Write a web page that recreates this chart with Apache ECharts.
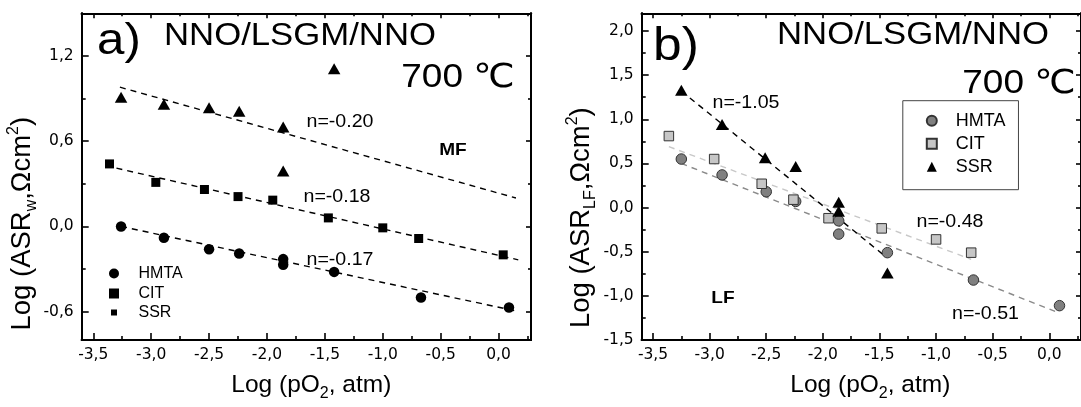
<!DOCTYPE html>
<html>
<head>
<meta charset="utf-8">
<script src="https://cdn.jsdelivr.net/npm/echarts@6/dist/echarts.min.js"></script>
<style>
  html, body { margin: 0; padding: 0; background: #fff; }
  #chart { width: 1081px; height: 407px; }
</style>
</head>
<body>
<div id="chart"></div>
<script>
// ---- tick positions ----
const xMajorTicks = [-3.5, -3, -2.5, -2, -1.5, -1, -0.5, 0];
const xMinorTicks = [-3.25, -2.75, -2.25, -1.75, -1.25, -0.75, -0.25, 0.25];
const yMajorTicksMF = [-0.6, 0, 0.6, 1.2];
const yMinorTicksMF = [-0.3, 0.3, 0.9];
const yMajorTicksLF = [-1.5, -1, -0.5, 0, 0.5, 1, 1.5, 2];
const yMinorTicksLF = [-1.25, -0.75, -0.25, 0.25, 0.75, 1.25, 1.75];

// ---- panel a: middle-frequency ASR, [log pO2, log ASR] ----
const hmtaMF = [[-3.26, 0.0], [-2.89, -0.08], [-2.5, -0.16], [-2.24, -0.19], [-1.86, -0.23],
                [-1.86, -0.27], [-1.42, -0.32], [-0.67, -0.5], [0.09, -0.57]];
const citMF = [[-3.36, 0.44], [-2.96, 0.31], [-2.54, 0.26], [-2.25, 0.21], [-1.95, 0.185],
               [-1.47, 0.06], [-1.0, -0.01], [-0.69, -0.085], [0.04, -0.2]];
const ssrMF = [[-3.26, 0.91], [-2.89, 0.86], [-2.5, 0.835], [-2.24, 0.81], [-1.86, 0.70],
               [-1.86, 0.39], [-1.42, 1.11]];
const fitHmtaMF = [[-3.26, 0.0], [0.15, -0.595]];
const fitCitMF = [[-3.3, 0.41], [0.17, -0.235]];
const fitSsrMF = [[-3.27, 0.98], [0.15, 0.2]];

// ---- panel b: low-frequency ASR ----
const hmtaLF = [[-3.25, 0.55], [-2.89, 0.37], [-2.5, 0.18], [-2.24, 0.07], [-1.86, -0.15],
                [-1.86, -0.30], [-1.43, -0.51], [-0.67, -0.82], [0.09, -1.11]];
const citLF = [[-3.36, 0.81], [-2.96, 0.55], [-2.54, 0.27], [-2.26, 0.09], [-1.95, -0.12],
               [-1.48, -0.235], [-1.0, -0.36], [-0.69, -0.51]];
const ssrLF = [[-3.25, 1.33], [-2.89, 0.94], [-2.51, 0.565], [-2.24, 0.466], [-1.86, 0.06],
               [-1.86, -0.04], [-1.43, -0.74]];
const fitHmtaLF = [[-3.25, 0.5], [0.08, -1.19]];
const fitCitLF = [[-3.36, 0.69], [-0.69, -0.585]];
const fitSsrLF = [[-3.25, 1.32], [-1.45, -0.55]];

const FONT = '"Liberation Sans", Arial, "DejaVu Sans", sans-serif';
const TICK_FONT = '"DejaVu Sans", "Liberation Sans", sans-serif';
const TICK_SIZE = 15.5;
const comma = v => v.toFixed(1).replace('.', ',');
const stripPanel = name => name.replace(/ \([ab]\)$/, '');

const titleRich = () => ({
  sub: { fontSize: 16, lineHeight: 16, verticalAlign: 'bottom', fontFamily: FONT, color: '#000' },
  sup: { fontSize: 16, lineHeight: 16, verticalAlign: 'top', fontFamily: FONT, color: '#000' }
});

const labelStyle = { fontSize: TICK_SIZE, fontFamily: TICK_FONT, color: '#000' };
const axisLine = () => ({ show: true, onZero: false, lineStyle: { color: '#000', width: 2 } });
const tick = (vals, len) => ({ show: true, inside: true, length: len, customValues: vals,
                               lineStyle: { color: '#000', width: 1.6 } });
const noLabel = () => ({ show: false, ...labelStyle });
const tickLabel = (vals, margin) => ({ show: true, customValues: vals, formatter: comma, margin,
                                       ...labelStyle });

function axisBase(grid, range, position) {
  return { type: 'value', gridIndex: grid, min: range[0], max: range[1], position,
           splitLine: { show: false }, axisLine: axisLine(), axisLabel: noLabel() };
}

function makeXAxes(grid, range, title, shift) {
  return [
    { ...axisBase(grid, range, 'bottom'), axisTick: tick(xMajorTicks, 7),
      axisLabel: tickLabel(xMajorTicks, 7),
      name: title, nameLocation: 'middle', nameGap: 27,
      nameTextStyle: { fontSize: 24.5, lineHeight: 34, fontFamily: FONT, color: '#000',
                       padding: [0, 0, 0, shift], rich: titleRich() } },
    { ...axisBase(grid, range, 'bottom'), axisTick: tick(xMinorTicks, 4) },
    { ...axisBase(grid, range, 'top'), axisTick: tick(xMajorTicks, 5) },
    { ...axisBase(grid, range, 'top'), axisTick: tick(xMinorTicks, 3) }
  ];
}

function makeYAxes(grid, range, majors, minors, title, gap, shiftDown) {
  return [
    { ...axisBase(grid, range, 'left'), axisTick: tick(majors, 7),
      axisLabel: tickLabel(majors, 8),
      name: title, nameLocation: 'middle', nameGap: gap,
      nameTextStyle: { fontSize: 27.5, lineHeight: 34, fontFamily: FONT, color: '#000',
                       padding: [0, shiftDown * 2, 0, 0], rich: titleRich() } },
    { ...axisBase(grid, range, 'left'), axisTick: tick(minors, 4) },
    { ...axisBase(grid, range, 'right'), axisTick: tick(majors, 5) },
    { ...axisBase(grid, range, 'right'), axisTick: tick(minors, 3) }
  ];
}

const pO2Title = 'Log (pO{sub|2}, atm)';

const xAxis = [
  ...makeXAxes(0, [-3.6, 0.28], pO2Title, 10),
  ...makeXAxes(1, [-3.6, 0.28], pO2Title, 18)
];
const yAxis = [
  ...makeYAxes(0, [-0.8, 1.5], yMajorTicksMF, yMinorTicksMF, 'Log (ASR{sub|w},\u03A9cm{sup|2})', 34, 47),
  ...makeYAxes(1, [-1.5, 2.2], yMajorTicksLF, yMinorTicksLF, 'Log (ASR{sub|LF},\u03A9cm{sup|2})', 43, 41)
];

function points(name, grid, data, symbol, size, fill, border) {
  return {
    type: 'scatter', name, data, xAxisIndex: grid * 4, yAxisIndex: grid * 4,
    symbol, symbolSize: size, z: 3,
    itemStyle: { color: fill, borderColor: border || fill, borderWidth: border ? 1 : 0, opacity: 1 }
  };
}
function fit(grid, data, color) {
  return {
    type: 'line', data, xAxisIndex: grid * 4, yAxisIndex: grid * 4, symbol: 'none',
    silent: true, z: 1, lineStyle: { color, width: 1.4, type: [6, 5] }
  };
}

const series = [
  fit(0, fitHmtaMF, '#000'), fit(0, fitCitMF, '#000'), fit(0, fitSsrMF, '#000'),
  points('HMTA (a)', 0, hmtaMF, 'circle', 10.5, '#000'),
  points('CIT (a)', 0, citMF, 'rect', 9, '#000'),
  points('SSR (a)', 0, ssrMF, 'triangle', [12.5, 11], '#000'),
  fit(1, fitCitLF, '#c8c8c8'), fit(1, fitHmtaLF, '#8a8a8a'), fit(1, fitSsrLF, '#000'),
  points('HMTA (b)', 1, hmtaLF, 'circle', 10.5, '#808080', '#333'),
  points('CIT (b)', 1, citLF, 'rect', 9.5, '#c6c6c6', '#333'),
  points('SSR (b)', 1, ssrLF, 'triangle', [12.5, 11], '#000')
];

const legendText = (size, pad) => ({ fontSize: size, lineHeight: 16, fontFamily: FONT, color: '#000',
                                     padding: [0, 0, 0, pad] });
const legend = [
  { orient: 'vertical', left: 109, top: 265.5, itemWidth: 10, itemHeight: 10, itemGap: 4,
    data: ['HMTA (a)', 'CIT (a)'], formatter: stripPanel, textStyle: legendText(16, 14.5),
    selectedMode: false, padding: 0 },
  { orient: 'vertical', left: 111, top: 304.5, itemWidth: 6, itemHeight: 6,
    data: [{ name: 'SSR (a)', icon: 'rect' }], formatter: stripPanel, textStyle: legendText(16, 16.5),
    selectedMode: false, padding: 0 },
  { orient: 'vertical', left: 902.8, top: 100.7, itemWidth: 10, itemHeight: 10, itemGap: 5,
    data: ['HMTA (b)', 'CIT (b)', 'SSR (b)'], formatter: stripPanel, textStyle: legendText(18, 14),
    selectedMode: false, padding: [11, 13, 14, 23], borderColor: '#444', borderWidth: 1 }
];

function note(text, x, y, size, bold) {
  return {
    type: 'text', x, y, scaleX: 1.12, silent: true,
    style: { text, font: (bold ? 'bold ' : '') + size + 'px ' + FONT, fill: '#000',
             align: 'center', verticalAlign: 'middle' }
  };
}

const graphic = [
  note('a)', 119, 42, 44),
  note('NNO/LSGM/NNO', 300, 36, 31),
  note('700 \u2103', 458, 78, 33),
  note('n=-0.20', 340, 122, 17.5),
  note('n=-0.18', 337, 197, 17.5),
  note('n=-0.17', 340, 260, 17.5),
  note('MF', 453, 150, 17, true),
  note('b)', 676, 47, 46),
  note('NNO/LSGM/NNO', 913, 35, 31),
  note('700 \u2103', 1019, 84, 33),
  note('n=-1.05', 746, 103, 17.5),
  note('n=-0.48', 950, 222, 17.5),
  note('n=-0.51', 985.5, 314, 17.5),
  note('LF', 723, 298, 17, true)
];

const chart = echarts.init(document.getElementById('chart'), null, { renderer: 'canvas' });
chart.setOption({
  backgroundColor: '#fff',
  animation: false,
  grid: [
    { left: 81.7, top: 13.3, width: 449.3, height: 335 },
    { left: 641.7, top: 13.3, width: 449.3, height: 334.4 }
  ],
  xAxis, yAxis, series, legend, graphic
});

// make sure the axis tick labels ("-3,5", "0,6", ...) carry the tick font
const tickText = /^-?\d,\d$/;
function styleTickLabels(el) {
  if (el.isGroup) {
    el.eachChild(styleTickLabels);
    return;
  }
  if (el.style && typeof el.style.text === 'string' && tickText.test(el.style.text)) {
    el.setStyle({ fontSize: TICK_SIZE, fontFamily: TICK_FONT, fill: '#000', font: null });
  }
}
chart.getZr().storage.getRoots().forEach(styleTickLabels);
chart.getZr().refresh();
</script>
</body>
</html>
